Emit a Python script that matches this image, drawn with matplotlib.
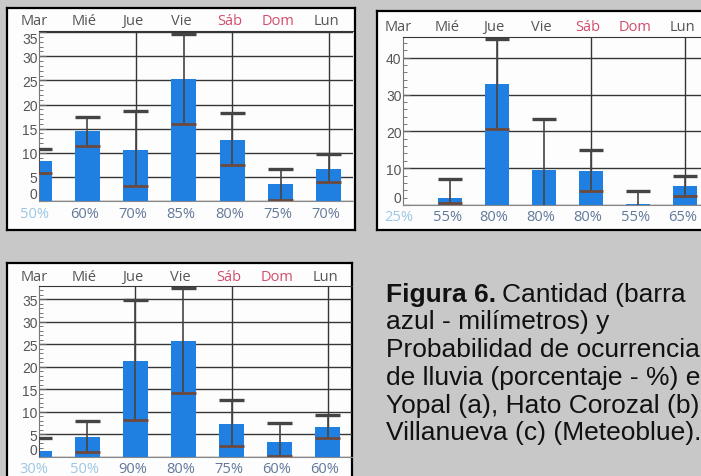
import numpy as np
import matplotlib.pyplot as plt
from matplotlib import font_manager
from matplotlib.ticker import MultipleLocator
from matplotlib.transforms import blended_transform_factory

dias = ['Mar', 'Mié', 'Jue', 'Vie', 'Sáb', 'Dom', 'Lun']

# Yopal (a): lluvia (mm), rango min-max y probabilidad (%)
yopal_mm = [8.2, 14.5, 10.6, 25.2, 12.7, 3.5, 6.6]
yopal_min = [5.9, 11.3, 3.1, 15.9, 7.5, 0.3, 3.9]
yopal_max = [10.7, 17.4, 18.6, 34.7, 18.3, 6.6, 9.7]
yopal_prob = [50, 60, 70, 85, 80, 75, 70]

# Hato Corozal (b)
hato_mm = [0, 1.8, 32.8, 9.6, 9.2, 0.4, 5.2]
hato_min = [0, 0.5, 20.7, 0, 3.7, 0, 2.5]
hato_max = [0, 7.1, 45.1, 23.4, 14.8, 3.9, 8.0]
hato_prob = [25, 55, 80, 80, 80, 55, 65]

# Villanueva (c)
villa_mm = [1.3, 4.4, 21.3, 25.8, 7.3, 3.3, 6.5]
villa_min = [0, 1.1, 8.2, 14.1, 2.4, 0.2, 4.1]
villa_max = [4.1, 7.9, 34.8, 37.6, 12.6, 7.6, 9.3]
villa_prob = [30, 50, 90, 80, 75, 60, 60]

W, H = 701, 477
AZUL = '#1f80e2'
GRIS = '#363636'
FUENTE = 'Open Sans'

# numeros del eje y en letra angosta si existe
try:
    font_manager.findfont('Liberation Sans Narrow', fallback_to_default=False)
    ANGOSTA = 'Liberation Sans Narrow'
except ValueError:
    ANGOSTA = 'Liberation Sans'

fig = plt.figure(figsize=(W / 100, H / 100), dpi=100)
fig.patch.set_facecolor('#c8c8c8')


def caja(x0, y0, x1, y1):
    # pixeles (desde arriba) -> fraccion de figura
    return [x0 / W, 1 - y1 / H, (x1 - x0) / W, (y1 - y0) / H]


def panel(marco, area, mm, lo, hi, prob, ytop, paso, menor):
    fr = fig.add_axes(caja(*marco))
    fr.set_xticks([])
    fr.set_yticks([])
    fr.set_facecolor('#fdfdfd')
    for s in fr.spines.values():
        s.set_color('black')
        s.set_linewidth(1.6)

    ax = fig.add_axes(caja(*area))
    ax.patch.set_alpha(0)
    x = np.arange(len(dias))
    ax.bar(x, mm, width=0.52, color=AZUL, zorder=2)
    for i in range(len(dias)):
        if hi[i] <= 0:
            continue
        ax.vlines(i, lo[i], hi[i], color='#4a4440', lw=1.2, zorder=3)
        ax.hlines(hi[i], i - 0.26, i + 0.26, color='#444444', lw=2.4, zorder=3)
        if lo[i] > 0:
            ax.hlines(lo[i], i - 0.26, i + 0.26, color='#6e4a3c', lw=2.0, zorder=3)

    ax.set_xlim(0, 6.5)
    ax.set_ylim(0, ytop)
    ax.set_xticks([])
    marcas = np.arange(0, ytop, paso)
    ax.set_yticks(marcas)
    ax.yaxis.set_minor_locator(MultipleLocator(menor))
    ax.yaxis.grid(True, color=GRIS, lw=1.0)
    ax.set_axisbelow(True)
    for d in (2, 4, 6):
        ax.axvline(d, color=GRIS, lw=1.0, zorder=1)
    ax.spines['right'].set_visible(False)
    ax.spines['top'].set_color(GRIS)
    ax.spines['left'].set_color('#777777')
    ax.spines['bottom'].set_color('#888888')
    ax.tick_params(axis='y', which='major', direction='in', length=5, width=0.8,
                   color='#666666', labelsize=10, labelcolor='#555555', pad=1)
    ax.tick_params(axis='y', which='minor', direction='in', length=3, width=0.7,
                   color='#777777')
    etiquetas = ax.get_yticklabels()
    for t in etiquetas:
        t.set_fontfamily(ANGOSTA)
    etiquetas[0].set_va('bottom')
    if ytop - marcas[-1] < 1:
        # la ultima marca queda pegada al borde superior
        etiquetas[-1].set_va('top')

    alto = area[3] - area[1]
    tr = blended_transform_factory(ax.transData, ax.transAxes)
    for i, d in enumerate(dias):
        c = '#d24d6b' if d in ('Sáb', 'Dom') else '#555555'
        xi = i - 0.1 if i == 0 else i - 0.06
        ax.text(xi, 1 + 10 / alto, d, transform=tr, ha='center', va='center',
                fontsize=10.5, color=c, family=FUENTE)
        cp = '#9cc6e4' if prob[i] <= 50 else '#62789a'
        ax.text(xi, -12 / alto, f'{prob[i]}%', transform=tr, ha='center',
                va='center', fontsize=10.5, color=cp, family=FUENTE)
    return ax


panel((7, 9, 355, 231), (39, 31.7, 353, 202), yopal_mm, yopal_min, yopal_max,
      yopal_prob, 35.3, 5, 1)
panel((377, 12, 720, 231), (403, 37.7, 708.5, 206), hato_mm, hato_min, hato_max,
      hato_prob, 45.7, 10, 2)
panel((7, 264, 352, 495), (39, 287.3, 352, 457.7), villa_mm, villa_min, villa_max,
      villa_prob, 37.9, 5, 1)

# pie de figura
lineas = ['Cantidad (barra',
          'azul - milímetros) y',
          'Probabilidad de ocurrencia',
          'de lluvia (porcentaje - %) en',
          'Yopal (a), Hato Corozal (b) y',
          'Villanueva (c) (Meteoblue).']
x0, y0, salto = 386, 301.7, 27.7
ren = fig.canvas.get_renderer()
neg = fig.text(x0 / W, 1 - y0 / H, 'Figura 6.', fontsize=19, weight='bold',
               family='Liberation Sans', va='baseline', color='#111111')
bb = neg.get_window_extent(renderer=ren)
fig.text((bb.x1 + 6) / W, 1 - y0 / H, lineas[0], fontsize=19,
         family='Liberation Sans', va='baseline', color='#111111')
for k, ln in enumerate(lineas[1:], start=1):
    fig.text(x0 / W, 1 - (y0 + k * salto) / H, ln, fontsize=19,
             family='Liberation Sans', va='baseline', color='#111111')

fig.savefig('out.png', dpi=100, facecolor=fig.get_facecolor())
